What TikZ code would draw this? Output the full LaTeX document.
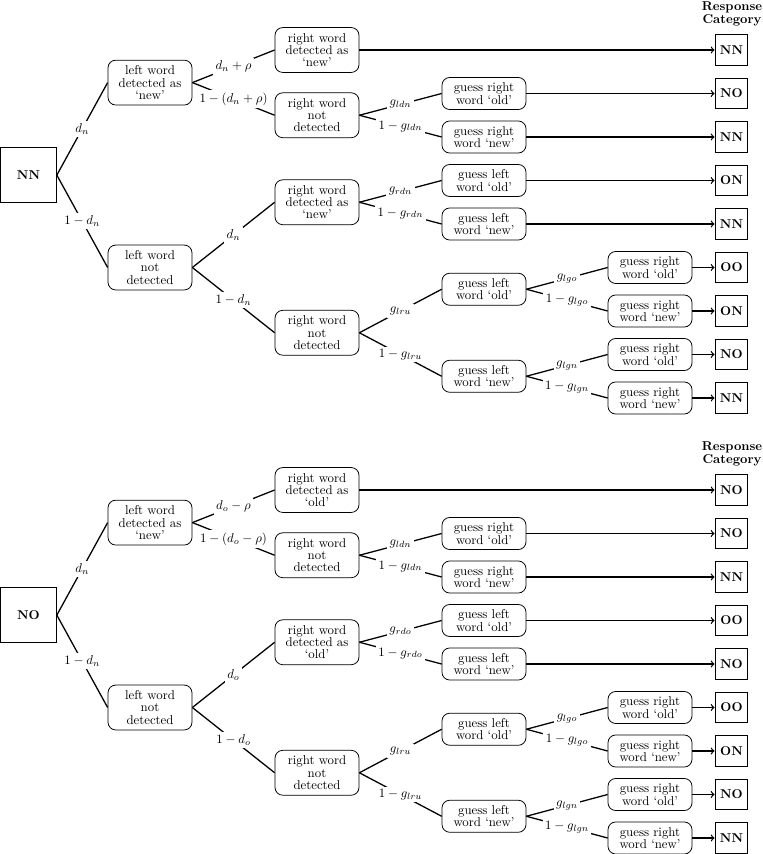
\documentclass[tikz,border=0pt]{standalone}
\usetikzlibrary{arrows.meta}
\tikzset{
 rbox/.style={draw, line width=0.6pt, rounded corners=6pt, align=center, minimum width=65.5pt, inner sep=2pt, font=\fontsize{10}{9.6}\selectfont},
 rbt/.style={rbox, minimum height=35pt},
 rbw/.style={rbox, minimum height=25pt},
 resp/.style={draw, line width=0.8pt, minimum width=25.7pt, minimum height=24pt, inner sep=0pt, font=\bfseries},
 rootbox/.style={draw, line width=0.5pt, minimum width=43.7pt, minimum height=43pt, font=\bfseries},
 br/.style={line width=1pt},
 lbl/.style={fill=white, inner sep=2pt, midway},
 arr/.style={line width=1pt, -to},
 hdr/.style={align=center, font=\fontsize{10}{10.5}\selectfont\bfseries}
}
\begin{document}
\begin{tikzpicture}[x=0.78pt,y=-0.78pt]
\useasboundingbox (0,0) rectangle (762,854);
% ================= top tree =================
\node[hdr] (th) at (732,14) {Response\\Category};
\node[rootbox] (tR) at (28.5,175.1) {NN};
\node[rbt] (tA) at (150,82.6) {left word\\detected as\\`new'};
\node[rbt] (tB) at (150,267.5) {left word\\not\\detected};
\node[rbt] (tAa) at (317,50) {right word\\detected as\\`new'};
\node[rbt] (tAb) at (317,115.25) {right word\\not\\detected};
\node[rbt] (tBa) at (317,202.25) {right word\\detected as\\`new'};
\node[rbt] (tBb) at (317,332.75) {right word\\not\\detected};
\node[rbw] (tAb1) at (484,93.5) {guess right\\word `old'};
\node[rbw] (tAb2) at (484,137) {guess right\\word `new'};
\node[rbw] (tBa1) at (484,180.5) {guess left\\word `old'};
\node[rbw] (tBa2) at (484,224) {guess left\\word `new'};
\node[rbw] (tBb1) at (484,289.25) {guess left\\word `old'};
\node[rbw] (tBb2) at (484,376.25) {guess left\\word `new'};
\node[rbw] (tBb11) at (650,267.5) {guess right\\word `old'};
\node[rbw] (tBb12) at (650,311) {guess right\\word `new'};
\node[rbw] (tBb21) at (650,354.5) {guess right\\word `old'};
\node[rbw] (tBb22) at (650,398) {guess right\\word `new'};
\node[resp] (t0) at (731.5,50) {NN};
\node[resp] (t1) at (731.5,93.5) {NO};
\node[resp] (t2) at (731.5,137) {NN};
\node[resp] (t3) at (731.5,180.5) {ON};
\node[resp] (t4) at (731.5,224) {NN};
\node[resp] (t5) at (731.5,267.5) {OO};
\node[resp] (t6) at (731.5,311) {ON};
\node[resp] (t7) at (731.5,354.5) {NO};
\node[resp] (t8) at (731.5,398) {NN};
\draw[br] (tR.east) -- node[lbl]{$d_n$} (tA.west);
\draw[br] (tR.east) -- node[lbl]{$1-d_n$} (tB.west);
\draw[br] (tA.east) -- node[lbl]{$d_n+\rho$} (tAa.west);
\draw[br] (tA.east) -- node[lbl]{$1-(d_n+\rho)$} (tAb.west);
\draw[br] (tB.east) -- node[lbl]{$d_n$} (tBa.west);
\draw[br] (tB.east) -- node[lbl]{$1-d_n$} (tBb.west);
\draw[br] (tAb.east) -- node[lbl]{$g_{ldn}$} (tAb1.west);
\draw[br] (tAb.east) -- node[lbl]{$1-g_{ldn}$} (tAb2.west);
\draw[br] (tBa.east) -- node[lbl]{$g_{rdn}$} (tBa1.west);
\draw[br] (tBa.east) -- node[lbl]{$1-g_{rdn}$} (tBa2.west);
\draw[br] (tBb.east) -- node[lbl]{$g_{lru}$} (tBb1.west);
\draw[br] (tBb.east) -- node[lbl]{$1-g_{lru}$} (tBb2.west);
\draw[br] (tBb1.east) -- node[lbl]{$g_{lgo}$} (tBb11.west);
\draw[br] (tBb1.east) -- node[lbl]{$1-g_{lgo}$} (tBb12.west);
\draw[br] (tBb2.east) -- node[lbl]{$g_{lgn}$} (tBb21.west);
\draw[br] (tBb2.east) -- node[lbl]{$1-g_{lgn}$} (tBb22.west);
\draw[arr] (tAa.east) -- (t0.west);
\draw[arr] (tAb1.east) -- (t1.west);
\draw[arr] (tAb2.east) -- (t2.west);
\draw[arr] (tBa1.east) -- (t3.west);
\draw[arr] (tBa2.east) -- (t4.west);
\draw[arr] (tBb11.east) -- (t5.west);
\draw[arr] (tBb12.east) -- (t6.west);
\draw[arr] (tBb21.east) -- (t7.west);
\draw[arr] (tBb22.east) -- (t8.west);
% ================= bottom tree =================
\node[hdr] (bh) at (732,454) {Response\\Category};
\node[rootbox] (bR) at (28.5,615.1) {NO};
\node[rbt] (bA) at (150,522.6) {left word\\detected as\\`new'};
\node[rbt] (bB) at (150,707.5) {left word\\not\\detected};
\node[rbt] (bAa) at (317,490) {right word\\detected as\\`old'};
\node[rbt] (bAb) at (317,555.25) {right word\\not\\detected};
\node[rbt] (bBa) at (317,642.25) {right word\\detected as\\`old'};
\node[rbt] (bBb) at (317,772.75) {right word\\not\\detected};
\node[rbw] (bAb1) at (484,533.5) {guess right\\word `old'};
\node[rbw] (bAb2) at (484,577) {guess right\\word `new'};
\node[rbw] (bBa1) at (484,620.5) {guess left\\word `old'};
\node[rbw] (bBa2) at (484,664) {guess left\\word `new'};
\node[rbw] (bBb1) at (484,729.25) {guess left\\word `old'};
\node[rbw] (bBb2) at (484,816.25) {guess left\\word `new'};
\node[rbw] (bBb11) at (650,707.5) {guess right\\word `old'};
\node[rbw] (bBb12) at (650,751) {guess right\\word `new'};
\node[rbw] (bBb21) at (650,794.5) {guess right\\word `old'};
\node[rbw] (bBb22) at (650,838) {guess right\\word `new'};
\node[resp] (b0) at (731.5,490) {NO};
\node[resp] (b1) at (731.5,533.5) {NO};
\node[resp] (b2) at (731.5,577) {NN};
\node[resp] (b3) at (731.5,620.5) {OO};
\node[resp] (b4) at (731.5,664) {NO};
\node[resp] (b5) at (731.5,707.5) {OO};
\node[resp] (b6) at (731.5,751) {ON};
\node[resp] (b7) at (731.5,794.5) {NO};
\node[resp] (b8) at (731.5,838) {NN};
\draw[br] (bR.east) -- node[lbl]{$d_n$} (bA.west);
\draw[br] (bR.east) -- node[lbl]{$1-d_n$} (bB.west);
\draw[br] (bA.east) -- node[lbl]{$d_o-\rho$} (bAa.west);
\draw[br] (bA.east) -- node[lbl]{$1-(d_o-\rho)$} (bAb.west);
\draw[br] (bB.east) -- node[lbl]{$d_o$} (bBa.west);
\draw[br] (bB.east) -- node[lbl]{$1-d_o$} (bBb.west);
\draw[br] (bAb.east) -- node[lbl]{$g_{ldn}$} (bAb1.west);
\draw[br] (bAb.east) -- node[lbl]{$1-g_{ldn}$} (bAb2.west);
\draw[br] (bBa.east) -- node[lbl]{$g_{rdo}$} (bBa1.west);
\draw[br] (bBa.east) -- node[lbl]{$1-g_{rdo}$} (bBa2.west);
\draw[br] (bBb.east) -- node[lbl]{$g_{lru}$} (bBb1.west);
\draw[br] (bBb.east) -- node[lbl]{$1-g_{lru}$} (bBb2.west);
\draw[br] (bBb1.east) -- node[lbl]{$g_{lgo}$} (bBb11.west);
\draw[br] (bBb1.east) -- node[lbl]{$1-g_{lgo}$} (bBb12.west);
\draw[br] (bBb2.east) -- node[lbl]{$g_{lgn}$} (bBb21.west);
\draw[br] (bBb2.east) -- node[lbl]{$1-g_{lgn}$} (bBb22.west);
\draw[arr] (bAa.east) -- (b0.west);
\draw[arr] (bAb1.east) -- (b1.west);
\draw[arr] (bAb2.east) -- (b2.west);
\draw[arr] (bBa1.east) -- (b3.west);
\draw[arr] (bBa2.east) -- (b4.west);
\draw[arr] (bBb11.east) -- (b5.west);
\draw[arr] (bBb12.east) -- (b6.west);
\draw[arr] (bBb21.east) -- (b7.west);
\draw[arr] (bBb22.east) -- (b8.west);
\end{tikzpicture}
\end{document}
